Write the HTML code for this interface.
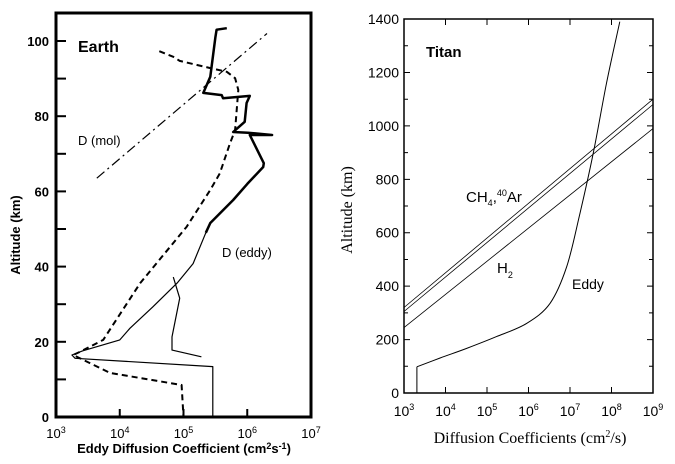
<!DOCTYPE html>
<html><head><meta charset="utf-8"><style>
body{margin:0;background:#fff;width:675px;height:464px;overflow:hidden}
svg{display:block}
text{font-family:"Liberation Sans",Arial,sans-serif;fill:#000}
.serif{font-family:"Liberation Serif",serif}
</style></head><body>
<svg id="chart" width="675" height="464" viewBox="0 0 675 464" xmlns="http://www.w3.org/2000/svg">
<g id="left"></g>
<g id="right"></g>
</svg>
<script>
// Earth data: [log10 D, altitude km]
const earthThickTop=[[5.68,103.4],[5.52,103],[5.5,101],[5.42,90.5],[5.31,86.2],[5.6,85.6],[5.62,84.8],[6.04,85.4],[5.99,83.5],[5.96,78.5],[5.78,75.8],[6.01,75.6],[6.39,75],[6.04,75],[6.26,67.5],[6.25,66.5],[6.0,62],[5.78,57.7],[5.42,51.6],[5.35,49]];
const earthThinEddy=[[5.35,49],[5.15,40.8],[4.9,35.6],[4.52,29.3],[4.16,23.6],[4.0,20.5],[3.42,17.6],[3.25,16.5],[3.3,15.6],[5.46,13.4],[5.46,0]];
const earthThinBranch=[[4.84,37.2],[4.94,31.6],[4.82,21.3],[4.82,17.8],[5.28,16]];
const earthDashed=[[4.62,97.3],[4.84,95.8],[4.94,94.7],[5.42,92.8],[5.68,91.8],[5.81,90.1],[5.86,87],[5.81,76.3],[5.73,72.8],[5.57,64.8],[5.42,60.4],[5.05,50.6],[4.32,35.6],[3.74,20.5],[3.37,17.3],[3.27,16.5],[3.85,11.7],[4.21,10.7],[4.97,8.5],[5.0,0]];
const earthMol=[[3.64,63.5],[6.31,102]];
const earthYTicks=[0,20,40,60,80,100];
const earthXTicks=[3,4,5,6,7];
// Titan data
const titanCH4a=[[3,320],[9,1100]];
const titanCH4b=[[3,305],[9,1080]];
const titanH2=[[3,245],[9,990]];
const titanEddyBase=[[3.31,0],[3.31,98]];
const titanEddy=[[3.31,98],[3.87,131],[4.51,167],[5.23,211],[5.96,261],[6.52,336],[6.92,473],[7.24,673],[7.56,897],[7.88,1160],[8.2,1390]];
const titanYTicks=[0,200,400,600,800,1000,1200,1400];
const titanXTicks=[3,4,5,6,7,8,9];

const NS='http://www.w3.org/2000/svg';
function mk(parent,tag,attrs,txt){const e=document.createElementNS(NS,tag);for(const k in attrs)e.setAttribute(k,attrs[k]);if(txt!==undefined)e.textContent=txt;parent.appendChild(e);return e;}

// Earth axes
const ex=v=>56+(v-3)*63.75, ey=a=>417-a*3.76;
const L=document.getElementById('left');
function epath(d,w,dash,name){const p=mk(L,'path',{d:'M'+d.map(q=>ex(q[0]).toFixed(1)+','+ey(q[1]).toFixed(1)).join('L'),fill:'none',stroke:'#000','stroke-width':w,'stroke-dasharray':dash||'none','stroke-linejoin':'round'});

}
const fr=mk(L,'rect',{x:56,y:13,width:255,height:404,fill:'none',stroke:'#000','stroke-width':3});


for(let a=10;a<=100;a+=10){const t=mk(L,'line',{x1:56,x2:66,y1:ey(a),y2:ey(a),stroke:'#000','stroke-width':2});

}
earthYTicks.forEach(a=>{const t=mk(L,'text',{x:49,y:ey(a)+5,'text-anchor':'end','font-size':13,'font-weight':'bold'},String(a));

});
earthXTicks.forEach(v=>{if(v>3&&v<7){const t=mk(L,'line',{x1:ex(v),x2:ex(v),y1:417,y2:409,stroke:'#000','stroke-width':2});

}
const g=mk(L,'text',{x:ex(v),y:438,'text-anchor':'middle','font-size':13});


mk(g,'tspan',{},'10');mk(g,'tspan',{dy:-5,'font-size':9},String(v));});
epath(earthThickTop,2.5,null,'earth-eddy-thick');
epath(earthThinEddy,1.2,null,'earth-eddy-thin');
epath(earthThinBranch,1.2,null,'earth-eddy-branch');
epath(earthDashed,2,'6,4','earth-eddy-dashed');
epath(earthMol,1.2,'10,4,2,4','earth-d-mol');
[['Earth',78,52,16,'bold','earth-title'],['D (mol)',78,145,13,'normal','d-mol-label'],['D (eddy)',222,257,13,'normal','d-eddy-label']].forEach(s=>{const t=mk(L,'text',{x:s[1],y:s[2],'font-size':s[3],'font-weight':s[4]},s[0]);

});
const yt=mk(L,'text',{x:0,y:0,transform:'translate(20,235) rotate(-90)','text-anchor':'middle','font-size':13,'font-weight':'bold'},'Altitude (km)');


const xt=mk(L,'text',{x:184,y:453,'text-anchor':'middle','font-size':13,'font-weight':'bold'});


mk(xt,'tspan',{},'Eddy Diffusion Coefficient (cm');mk(xt,'tspan',{dy:-4,'font-size':9},'2');mk(xt,'tspan',{dy:4},'s');mk(xt,'tspan',{dy:-4,'font-size':9},'-1');mk(xt,'tspan',{dy:4},')');

// Titan axes
const tx=v=>404+(v-3)*41.5, ty=a=>393-a*0.2671;
const R=document.getElementById('right');
function tpath(d,w,name){const p=mk(R,'path',{d:'M'+d.map(q=>tx(q[0]).toFixed(1)+','+ty(q[1]).toFixed(1)).join('L'),fill:'none',stroke:'#000','stroke-width':w});

}
function smooth(d,w,name){const P=d.map(q=>[tx(q[0]),ty(q[1])]);let s='M'+P[0][0]+','+P[0][1];
for(let i=0;i<P.length-1;i++){const p0=P[Math.max(0,i-1)],p1=P[i],p2=P[i+1],p3=P[Math.min(P.length-1,i+2)];
const c1=[p1[0]+(p2[0]-p0[0])/6,p1[1]+(p2[1]-p0[1])/6],c2=[p2[0]-(p3[0]-p1[0])/6,p2[1]-(p3[1]-p1[1])/6];
s+='C'+c1.map(v=>v.toFixed(1)).join(',')+' '+c2.map(v=>v.toFixed(1)).join(',')+' '+p2.map(v=>v.toFixed(1)).join(',');}
const p=mk(R,'path',{d:s,fill:'none',stroke:'#000','stroke-width':w});

}
const fr2=mk(R,'rect',{x:404,y:19,width:249,height:374,fill:'none',stroke:'#000','stroke-width':1.5});


for(let a=100;a<1400;a+=100){const len=a%200===0?6:4;
const t=mk(R,'path',{d:`M404,${ty(a)}h${len}M653,${ty(a)}h${-len}`,stroke:'#000','stroke-width':1});

}
titanYTicks.forEach(a=>{const t=mk(R,'text',{x:399,y:ty(a)+5,'text-anchor':'end','font-size':14},String(a));

});
titanXTicks.forEach(v=>{const t=mk(R,'path',{d:`M${tx(v)},393v-6M${tx(v)},19v6`,stroke:'#000','stroke-width':1});


const g=mk(R,'text',{x:tx(v),y:416,'text-anchor':'middle','font-size':14});


mk(g,'tspan',{},'10');mk(g,'tspan',{dy:-6,'font-size':9},String(v));});
tpath(titanCH4a,0.8,'titan-ch4-line');
tpath(titanCH4b,0.8,'titan-ar-line');
tpath(titanH2,0.8,'titan-h2-line');
tpath(titanEddyBase,1,'titan-eddy-base');
smooth(titanEddy,1,'titan-eddy-line');
const tt=mk(R,'text',{x:426,y:57,'font-size':15,'font-weight':'bold'},'Titan');


const c=mk(R,'text',{x:466,y:202,'font-size':15});


mk(c,'tspan',{},'CH');mk(c,'tspan',{dy:4,'font-size':9},'4');mk(c,'tspan',{dy:-4},',');mk(c,'tspan',{dy:-6,'font-size':9},'40');mk(c,'tspan',{dy:6},'Ar');
const h=mk(R,'text',{x:497,y:273,'font-size':15});


mk(h,'tspan',{},'H');mk(h,'tspan',{dy:5,'font-size':9},'2');
const ed=mk(R,'text',{x:572,y:289,'font-size':14},'Eddy');


const ty2=mk(R,'text',{x:0,y:0,transform:'translate(352,210) rotate(-90)','text-anchor':'middle','font-size':16,class:'serif'},'Altitude (km)');


const tx2=mk(R,'text',{x:530,y:443,'text-anchor':'middle','font-size':16,class:'serif'});


mk(tx2,'tspan',{},'Diffusion Coefficients (cm');mk(tx2,'tspan',{dy:-6,'font-size':10},'2');mk(tx2,'tspan',{dy:6},'/s)');
</script>
</body></html>
